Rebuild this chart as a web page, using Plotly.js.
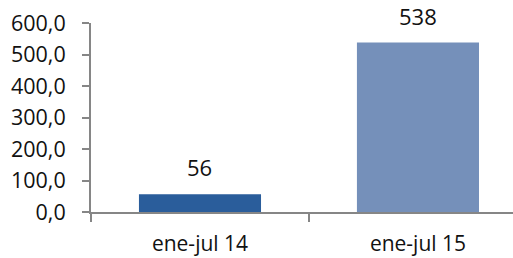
<!DOCTYPE html>
<html>
<head>
<meta charset="utf-8">
<script src="https://cdn.plot.ly/plotly-3.0.1.min.js"></script>
<style>html,body{margin:0;padding:0;background:#fff;}#chart{width:513px;height:258px;}</style>
</head>
<body>
<div id="chart"></div>
<script>
const categories = ["ene-jul 14", "ene-jul 15"];
const values = [56, 538];
const labels = ["56", "538"];
const barColors = ["#2A5D9B", "#7590BA"];
const yTicks = [0, 100, 200, 300, 400, 500, 600];

const data = [{
  type: "bar",
  x: categories,
  y: values,
  width: 0.56,
  marker: {color: barColors, line: {width: 0}},
  hoverinfo: "skip"
}];

const annotations = categories.map((c, i) => ({
  x: c, y: values[i], xref: "x", yref: "y",
  text: labels[i], showarrow: false, yanchor: "bottom", yshift: 10,
  font: {family: "Open Sans", size: 22, color: "#111"}
}));

const layout = {
  width: 513, height: 258,
  margin: {l: 91, r: 0, t: 23, b: 46, pad: 0},
  paper_bgcolor: "#fff", plot_bgcolor: "#fff",
  separators: ",.",
  showlegend: false,
  font: {family: "Open Sans", color: "#111"},
  xaxis: {
    type: "category",
    range: [-0.5, 1.436],
    showline: true, linecolor: "#868686", linewidth: 2,
    ticks: "outside", tickson: "boundaries", ticklen: 8, tickwidth: 2, tickcolor: "#868686",
    tickfont: {family: "Open Sans", size: 21, color: "#111"},
    ticklabelstandoff: 12,
    showgrid: false, zeroline: false, fixedrange: true
  },
  yaxis: {
    range: [0, 600],
    tickvals: yTicks,
    tickformat: ".1f",
    showline: true, linecolor: "#868686", linewidth: 2,
    ticks: "outside", ticklen: 7, tickwidth: 2, tickcolor: "#868686",
    tickfont: {family: "Open Sans", size: 21.5, color: "#111"},
    ticklabelstandoff: 12,
    showgrid: false, zeroline: false, fixedrange: true
  },
  annotations: annotations
};

Plotly.newPlot("chart", data, layout, {displayModeBar: false, staticPlot: true});
</script>
</body>
</html>
